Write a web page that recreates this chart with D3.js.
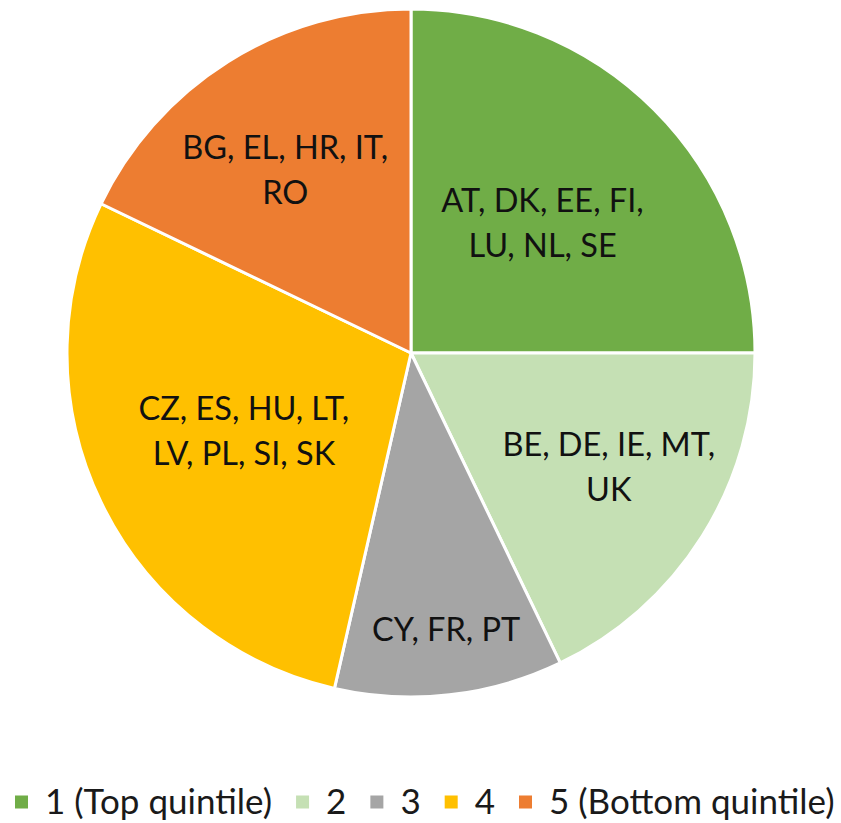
<!DOCTYPE html>
<html><head><meta charset="utf-8">
<script src="https://cdn.jsdelivr.net/npm/d3@7"></script>
<style>body{margin:0;background:#fff}</style>
</head><body>
<svg id="chart" width="841" height="823"></svg>
<script>
const categories = ["1 (Top quintile)", "2", "3", "4", "5 (Bottom quintile)"];
const values = [7, 5, 3, 8, 5];
const labelLines = [
  ["AT, DK, EE, FI,", "LU, NL, SE"],
  ["BE, DE, IE, MT,", "UK"],
  ["CY, FR, PT"],
  ["CZ, ES, HU, LT,", "LV, PL, SI, SK"],
  ["BG, EL, HR, IT,", "RO"]
];
const colors = ["#70AD47", "#C5E0B4", "#A5A5A5", "#FFC000", "#ED7D31"];
const labelRadiusFactor = [0.537, 0.664, 0.812, 0.536, 0.645];
const labelAngleShiftDeg = [0.4, -2.1, -0.8, 0.7, -2.4];

const svg = d3.select("#chart");
const cx = 411, cy = 353, R = 344;
const font = "Lato, sans-serif";

const pie = d3.pie().sort(null).value(d => d)(values);
const arc = d3.arc().innerRadius(0).outerRadius(R);
const g = svg.append("g").attr("transform", `translate(${cx},${cy})`);
g.selectAll("path").data(pie).join("path")
  .attr("d", arc).attr("fill", (d, i) => colors[i])
  .attr("stroke", "#fff").attr("stroke-width", 3).attr("stroke-linejoin", "round");

const fs = 32.5, lh = 45;
pie.forEach((d, i) => {
  const a = (d.startAngle + d.endAngle) / 2 + labelAngleShiftDeg[i] * Math.PI / 180;
  const r = R * labelRadiusFactor[i];
  const x = r * Math.sin(a), y = -r * Math.cos(a);
  const lines = labelLines[i];
  const t = g.append("text").attr("text-anchor", "middle")
    .attr("font-family", font).attr("font-size", fs).attr("fill", "#111");
  lines.forEach((ln, k) => {
    t.append("tspan").attr("x", x)
      .attr("y", y + (k - (lines.length - 1) / 2) * lh)
      .attr("dy", "0.35em").text(ln);
  });
});

// legend
const leg = svg.append("g").attr("transform", "translate(0,802)");
let xPos = 15;
categories.forEach((c, i) => {
  leg.append("rect").attr("x", xPos).attr("y", -6.5).attr("width", 13).attr("height", 13).attr("fill", colors[i]);
  const t = leg.append("text").attr("x", xPos + 30).attr("y", 0).attr("dy", "0.35em")
    .attr("font-family", font).attr("font-size", 35).attr("fill", "#1a1a1a").text(c);
  xPos += 30 + t.node().getComputedTextLength() + 24;
});
</script>
</body></html>
